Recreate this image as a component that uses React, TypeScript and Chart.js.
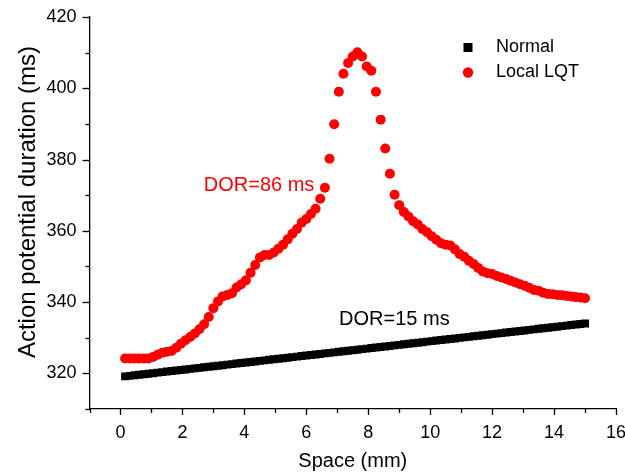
import { useEffect, useRef } from 'react';
import { Chart, registerables } from 'chart.js';

Chart.register(...registerables);

const spaceMm = [
  0.15, 0.3, 0.45, 0.6, 0.75, 0.9, 1.05, 1.2, 1.35, 1.5,
  1.65, 1.8, 1.95, 2.1, 2.25, 2.4, 2.55, 2.7, 2.85, 3,
  3.15, 3.3, 3.45, 3.6, 3.75, 3.9, 4.05, 4.2, 4.35, 4.5,
  4.65, 4.8, 4.95, 5.1, 5.25, 5.4, 5.55, 5.7, 5.85, 6,
  6.15, 6.3, 6.45, 6.6, 6.75, 6.9, 7.05, 7.2, 7.35, 7.5,
  7.65, 7.8, 7.95, 8.1, 8.25, 8.4, 8.55, 8.7, 8.85, 9,
  9.15, 9.3, 9.45, 9.6, 9.75, 9.9, 10.05, 10.2, 10.35, 10.5,
  10.65, 10.8, 10.95, 11.1, 11.25, 11.4, 11.55, 11.7, 11.85, 12,
  12.15, 12.3, 12.45, 12.6, 12.75, 12.9, 13.05, 13.2, 13.35, 13.5,
  13.65, 13.8, 13.95, 14.1, 14.25, 14.4, 14.55, 14.7, 14.85, 15,
];

const normalApd = [
  319.15, 319.3, 319.45, 319.6, 319.75, 319.9, 320.05, 320.2, 320.35, 320.5,
  320.65, 320.8, 320.95, 321.1, 321.25, 321.4, 321.55, 321.7, 321.85, 322,
  322.15, 322.3, 322.45, 322.6, 322.75, 322.9, 323.05, 323.2, 323.35, 323.5,
  323.65, 323.8, 323.95, 324.1, 324.25, 324.4, 324.55, 324.7, 324.85, 325,
  325.15, 325.3, 325.45, 325.6, 325.75, 325.9, 326.05, 326.2, 326.35, 326.5,
  326.65, 326.8, 326.95, 327.1, 327.25, 327.4, 327.55, 327.7, 327.85, 328,
  328.15, 328.3, 328.45, 328.6, 328.75, 328.9, 329.05, 329.2, 329.35, 329.5,
  329.65, 329.8, 329.95, 330.1, 330.25, 330.4, 330.55, 330.7, 330.85, 331,
  331.15, 331.3, 331.45, 331.6, 331.75, 331.9, 332.05, 332.2, 332.35, 332.5,
  332.65, 332.8, 332.95, 333.1, 333.25, 333.4, 333.55, 333.7, 333.85, 334,
];

const localLqtApd = [
  324.2, 324.2, 324.2, 324.2, 324.2, 324.2, 324.6, 325.2, 325.8, 326.1,
  326.3, 327.2, 328.3, 329.3, 330.2, 331.2, 332.4, 333.8, 335.8, 338.3,
  340.2, 341.6, 342.0, 342.5, 344.1, 345.0, 346.1, 348.2, 350.4, 352.5,
  353.2, 353.2, 353.9, 355.0, 356.1, 357.6, 359.2, 360.5, 362.3, 363.3,
  364.7, 366.2, 369.0, 372.1, 380.2, 389.9, 399.0, 404.1, 407.1, 408.9,
  410.1, 408.9, 406.1, 404.9, 399.0, 391.2, 383.1, 376.0, 370.1, 367.2,
  365.3, 364.0, 362.7, 361.8, 360.5, 359.6, 358.5, 357.5, 356.5, 356.1,
  355.9, 354.8, 353.5, 352.7, 351.6, 350.7, 349.6, 348.6, 348.1, 347.9,
  347.3, 346.9, 346.5, 346.0, 345.5, 345.0, 344.6, 344.0, 343.4, 343.2,
  342.6, 342.3, 342.2, 342.0, 341.9, 341.7, 341.6, 341.4, 341.3, 341.1,
];

const seriesNames = ['Normal', 'Local LQT'];
const seriesColors = ['#000000', '#ff0000'];
const xRange = [-1, 16];
const yRange = [310, 420];
const xTitle = 'Space (mm)';
const yTitle = 'Action potential duration (ms)';
const notes = [
  { text: 'DOR=86 ms', x: 2.69, y: 372.8, color: '#ff0000' },
  { text: 'DOR=15 ms', x: 7.06, y: 335.0, color: '#000000' },
];

const FONT = '"Liberation Sans", Arial, Helvetica, sans-serif';

const decorPlugin = {
  id: 'decor',
  afterDraw(chart: any) {
    const ctx = chart.ctx;
    const xs = chart.scales.x;
    const ys = chart.scales.y;
    const area = chart.chartArea;
    ctx.save();
    ctx.strokeStyle = '#000';
    ctx.lineWidth = 1.3;
    ys.ticks.forEach((t: any) => {
      const v = t.value;
      const py = Math.round(ys.getPixelForValue(v)) + 0.5;
      const len = v % 20 === 0 ? 7 : 4;
      ctx.beginPath();
      ctx.moveTo(area.left, py);
      ctx.lineTo(area.left - len, py);
      ctx.stroke();
    });
    xs.ticks.forEach((t: any) => {
      const v = t.value;
      const px = Math.round(xs.getPixelForValue(v)) + 0.5;
      const len = v % 2 === 0 ? 6 : 4;
      ctx.beginPath();
      ctx.moveTo(px, area.bottom);
      ctx.lineTo(px, area.bottom + len);
      ctx.stroke();
    });
    ctx.fillStyle = '#000';
    ctx.textAlign = 'center';
    ctx.textBaseline = 'middle';
    ctx.font = `20px ${FONT}`;
    ctx.fillText(xTitle, (area.left + area.right) / 2, 461);
    ctx.save();
    ctx.translate(28, 202);
    ctx.rotate(-Math.PI / 2);
    ctx.font = `24px ${FONT}`;
    ctx.fillText(yTitle, 0, 0);
    ctx.restore();
    ctx.textAlign = 'left';
    ctx.font = `20px ${FONT}`;
    notes.forEach((n) => {
      ctx.fillStyle = n.color;
      ctx.fillText(n.text, xs.getPixelForValue(n.x), ys.getPixelForValue(n.y));
    });
    const lx = area.right - 148;
    const ly = [47.5, 72.5];
    ctx.font = `18px ${FONT}`;
    seriesNames.forEach((name, i) => {
      ctx.fillStyle = seriesColors[i];
      if (i === 0) {
        ctx.fillRect(lx - 4.5, ly[i] - 4.5, 9, 9);
      } else {
        ctx.beginPath();
        ctx.arc(lx, ly[i], 5.2, 0, Math.PI * 2);
        ctx.fill();
      }
      ctx.fillStyle = '#000';
      ctx.fillText(name, lx + 28, ly[i]);
    });
    ctx.restore();
  },
};

export default function App() {
  const ref = useRef<HTMLCanvasElement | null>(null);
  useEffect(() => {
    if (!ref.current) return;
    const chart = new Chart(ref.current, {
      type: 'scatter',
      data: {
        datasets: [
          {
            label: seriesNames[0],
            data: spaceMm.map((x, i) => ({ x, y: normalApd[i] })),
            pointStyle: 'rect',
            pointRadius: 5.6,
            pointBackgroundColor: seriesColors[0],
            pointBorderWidth: 0,
            showLine: false,
          },
          {
            label: seriesNames[1],
            data: spaceMm.map((x, i) => ({ x, y: localLqtApd[i] })),
            pointStyle: 'circle',
            pointRadius: 5,
            pointBackgroundColor: seriesColors[1],
            pointBorderWidth: 0,
            showLine: false,
          },
        ],
      },
      options: {
        animation: false,
        responsive: false,
        layout: { padding: { left: 0, top: 17, right: 9, bottom: 0 } },
        plugins: { legend: { display: false }, tooltip: { enabled: false } },
        scales: {
          x: {
            type: 'linear',
            min: xRange[0],
            max: xRange[1],
            grid: { display: false, drawTicks: false },
            border: { display: true, color: '#000', width: 1.3 },
            ticks: {
              stepSize: 1,
              autoSkip: false,
              maxRotation: 0,
              padding: 13,
              color: '#000',
              font: { family: FONT, size: 18 },
              callback: (v: any) => (v % 2 === 0 && v >= 0 ? String(v) : ''),
            },
            afterFit: (s: any) => {
              s.height = 64;
              s.paddingLeft = 0;
              s.paddingRight = 0;
            },
          },
          y: {
            type: 'linear',
            min: yRange[0],
            max: yRange[1],
            grid: { display: false, drawTicks: false },
            border: { display: true, color: '#000', width: 1.3 },
            ticks: {
              stepSize: 10,
              autoSkip: false,
              padding: 13,
              color: '#000',
              font: { family: FONT, size: 18 },
              callback: (v: any) => (v % 20 === 0 ? String(v) : ''),
            },
            afterFit: (s: any) => {
              s.width = 89.5;
              s.paddingTop = 0;
              s.paddingBottom = 0;
            },
          },
        },
      },
      plugins: [decorPlugin],
    });
    return () => chart.destroy();
  }, []);
  return (
    <div style={{ position: 'absolute', left: 0, top: 0, width: 625, height: 473, background: '#fff' }}>
      <canvas ref={ref} width={625} height={473} style={{ width: 625, height: 473 }} />
    </div>
  );
}
